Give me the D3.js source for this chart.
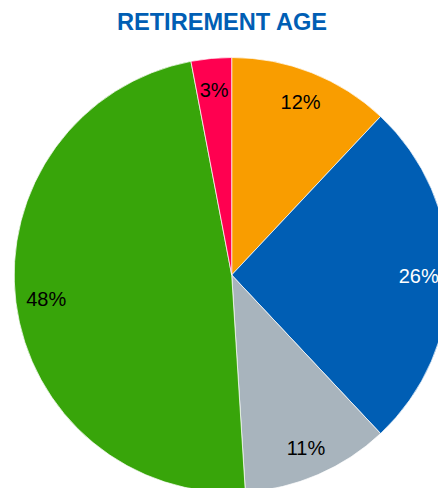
<!DOCTYPE html>
<html>
<head>
<meta charset="utf-8">
<script src="https://cdn.jsdelivr.net/npm/d3@7/dist/d3.min.js"></script>
<style>
  html, body { margin: 0; padding: 0; background: #fff; }
  svg { display: block; }
</style>
</head>
<body>
<svg id="chart" width="438" height="488"></svg>
<script>
const title = "RETIREMENT AGE";
const categories = ["A", "B", "C", "D", "E"];
const values = [12, 26, 11, 48, 3];
const labels = ["12%", "26%", "11%", "48%", "3%"];
const colors = ["#F99D00", "#005EB4", "#A8B4BD", "#38A50A", "#FF0050"];
const labelColors = ["#000", "#fff", "#000", "#000", "#000"];

const svg = d3.select("#chart");
const cx = 231.7, cy = 275, r = 217.5, labelR = 187;

svg.append("text")
  .attr("x", 222).attr("y", 30)
  .attr("text-anchor", "middle")
  .attr("font-family", "Liberation Sans, Arial, sans-serif")
  .attr("font-weight", "bold")
  .attr("font-size", 23.6)
  .attr("fill", "#005EB4")
  .text(title);

const data = categories.map((c, i) => ({ c, v: values[i], label: labels[i], color: colors[i], lc: labelColors[i] }));
const pie = d3.pie().value(d => d.v).sort(null);
const arcs = pie(data);
const arc = d3.arc().innerRadius(0).outerRadius(r);
const labelArc = d3.arc().innerRadius(labelR).outerRadius(labelR);

const g = svg.append("g").attr("transform", `translate(${cx},${cy})`);
g.selectAll("path").data(arcs).join("path")
  .attr("d", arc)
  .attr("fill", d => d.data.color)
  .attr("stroke", "#fff")
  .attr("stroke-width", 0.7)
  .attr("stroke-linejoin", "round");

g.selectAll("text").data(arcs).join("text")
  .attr("transform", d => `translate(${labelArc.centroid(d)})`)
  .attr("text-anchor", "middle")
  .attr("dy", "0.4em")
  .attr("font-family", "Liberation Sans, Arial, sans-serif")
  .attr("font-size", 20)
  .attr("fill", d => d.data.lc)
  .text(d => d.data.label);
</script>
</body>
</html>
